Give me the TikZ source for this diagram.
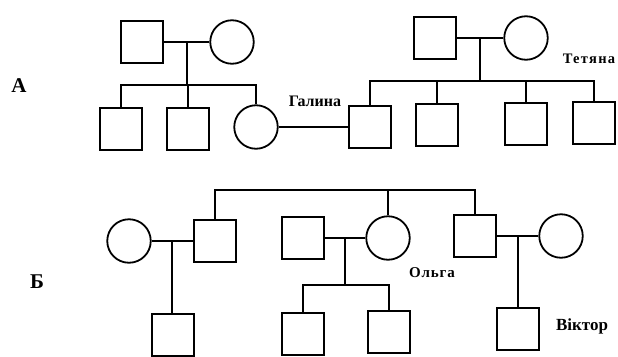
\documentclass[tikz,border=0pt]{standalone}
\usepackage{fontspec}
\setmainfont{Liberation Serif}
\usetikzlibrary{calc}
\tikzset{
  male/.style={draw,line width=1.8pt,minimum size=42.5pt,inner sep=0pt},
  female/.style={draw,circle,line width=1.8pt,minimum size=43.5pt,inner sep=0pt},
  kin/.style={line width=1.8pt},
  pname/.style={inner sep=0pt,font=\bfseries\fontsize{16}{16}\selectfont},
  ptag/.style={inner sep=0pt,font=\bfseries\fontsize{21}{21}\selectfont}
}
\begin{document}
\begin{tikzpicture}[x=1pt,y=-1pt]
\useasboundingbox (0,0) rectangle (618,356);
% A
\node[ptag] (pA) at (19,86) {А};
\node[male] (a1) at (142,42) {};
\node[female] (a2) at (232,42) {};
\node[male] (a3) at (121,129) {};
\node[male] (a4) at (188,129) {};
\node[female] (gal) at (256,127) {};
\node[male] (a5) at (435,38) {};
\node[female] (a6) at (526,38) {};
\node[male] (a7) at (370,127) {};
\node[male] (a8) at (437,125) {};
\node[male] (a9) at (526,124) {};
\node[male] (a10) at (594,123) {};
\node[pname] (tgal) at (315,101) {Галина};
\node[pname,font=\bfseries\fontsize{14.5}{14.5}\selectfont\addfontfeature{LetterSpace=9}] (ttet) at (589,59) {Тетяна};
\coordinate (mA) at ($(a1.east)!0.5!(a2.west)$);
\coordinate (sA) at (mA |- 0,85);
\draw[kin] (a1.east) -- (a2.west);
\draw[kin] (mA) -- (sA);
\draw[kin] (a3.north) |- (gal.north |- sA) -- (gal.north);
\draw[kin] (a4.north) -- (a4.north |- sA);
\coordinate (mB) at ($(a5.east)!0.5!(a6.west)$);
\coordinate (sB) at (mB |- 0,81);
\draw[kin] (a5.east) -- (a6.west);
\draw[kin] (mB) -- (sB);
\draw[kin] (a7.north) |- (a10.north |- sB) -- (a10.north);
\draw[kin] (a8.north) -- (a8.north |- sB);
\draw[kin] (a9.north) -- (a9.north |- sB);
\draw[kin] (gal.east) -- (a7.west);
% B
\node[ptag] (pB) at (37,282) {Б};
\node[female] (b1) at (129,241) {};
\node[male] (b2) at (215,241) {};
\node[male] (b3) at (303,238) {};
\node[female] (olga) at (388,238) {};
\node[male] (b4) at (475,236) {};
\node[female] (b5) at (561,236) {};
\node[male] (b6) at (173,335) {};
\node[male] (b7) at (303,334) {};
\node[male] (b8) at (389,332) {};
\node[male] (vik) at (518,329) {};
\node[pname,font=\bfseries\fontsize{15}{15}\selectfont\addfontfeature{LetterSpace=6}] (tolga) at (432,273) {Ольга};
\node[pname,font=\bfseries\fontsize{17}{17}\selectfont] (tvik) at (582,326) {Віктор};
\coordinate (sC) at (b2.north |- 0,190);
\draw[kin] (b2.north) -- (sC) -| (b4.north);
\draw[kin] (olga.north) -- (olga.north |- sC);
\coordinate (mC) at ($(b1.east)!0.5!(b2.west)$);
\draw[kin] (b1.east) -- (b2.west);
\draw[kin] (mC) -- (mC |- b6.north);
\coordinate (mD) at ($(b3.east)!0.5!(olga.west)$);
\coordinate (sD) at (mD |- 0,285);
\draw[kin] (b3.east) -- (olga.west);
\draw[kin] (mD) -- (sD);
\draw[kin] (b7.north) |- (b8.north |- sD) -- (b8.north);
\coordinate (mE) at ($(b4.east)!0.5!(b5.west)$);
\draw[kin] (b4.east) -- (b5.west);
\draw[kin] (mE) -- (mE |- vik.north);
\end{tikzpicture}
\end{document}
